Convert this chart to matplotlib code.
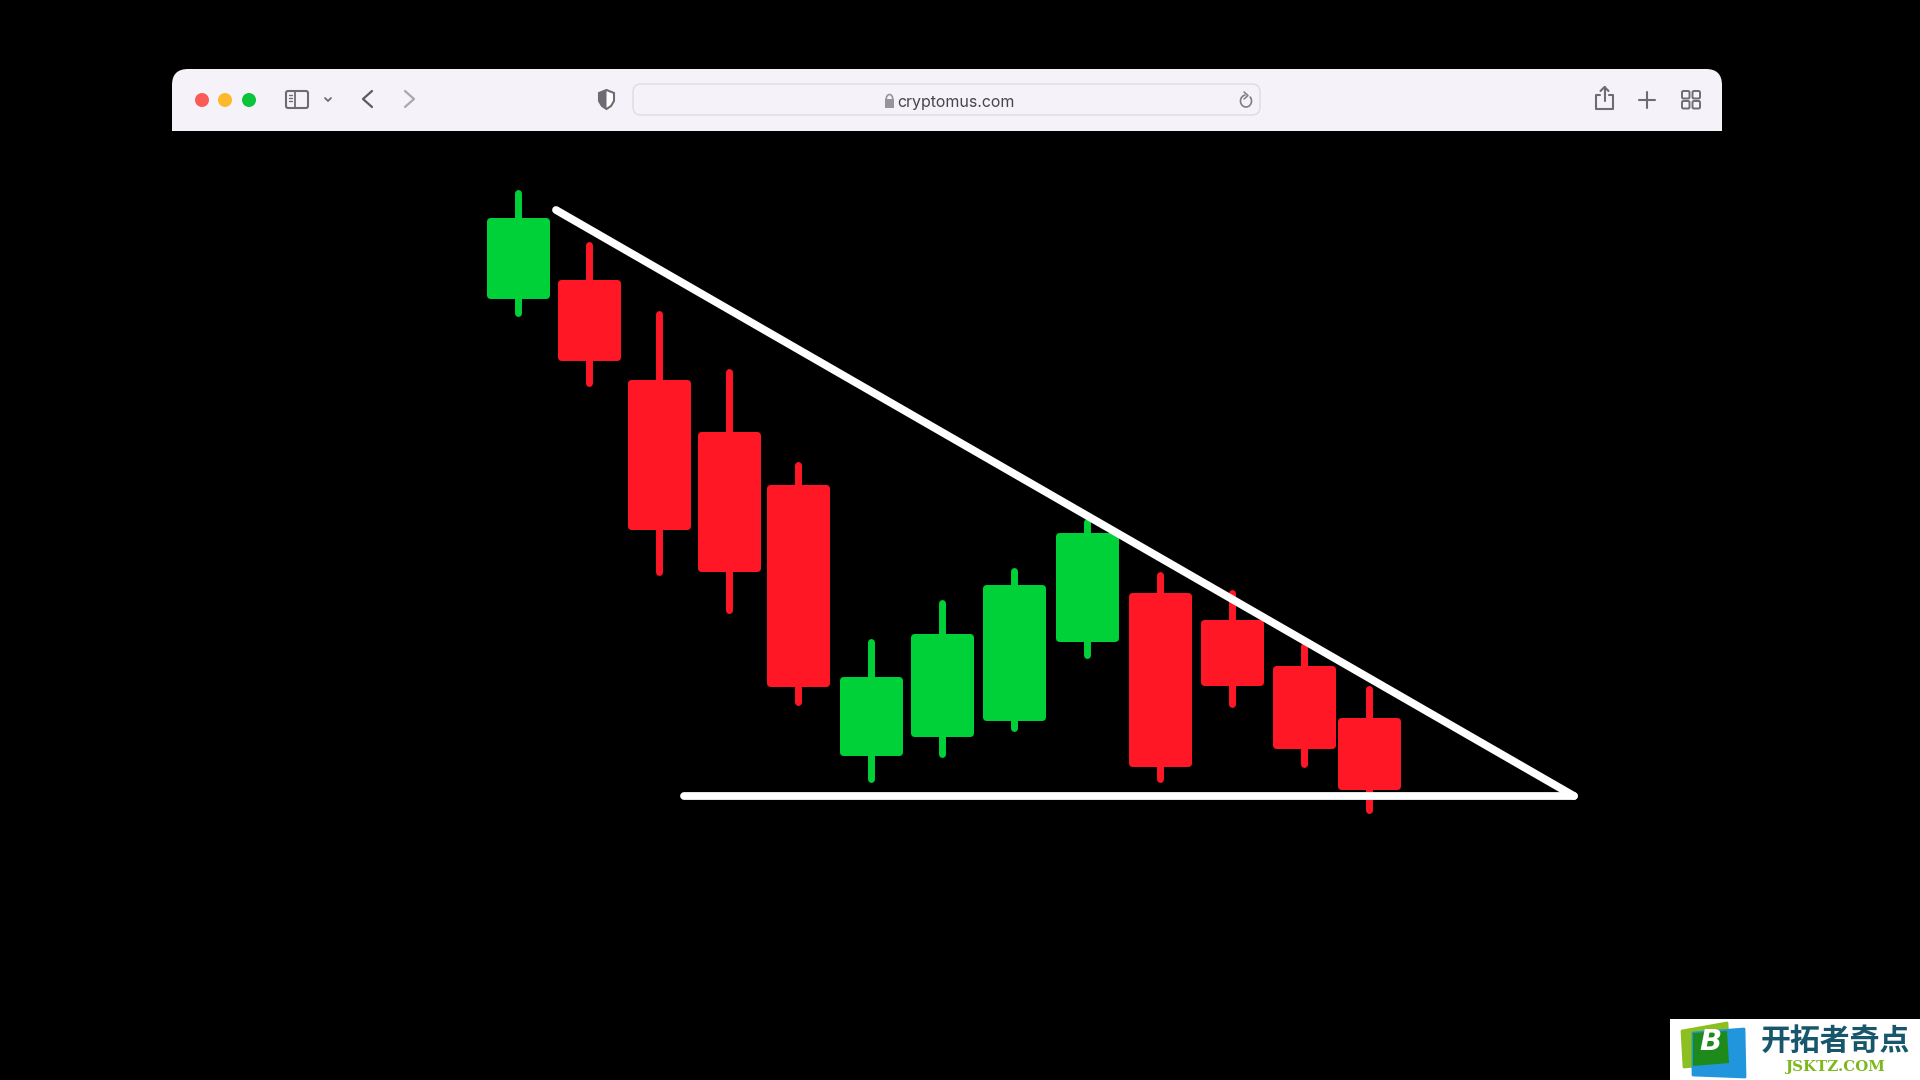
import matplotlib
matplotlib.use('Agg')
import matplotlib.pyplot as plt
from matplotlib.patches import FancyBboxPatch, Circle, Polygon, Rectangle, Arc

# Candles (y runs downward, in image pixels)
candle_x = [518, 589, 659, 729, 798, 871, 942, 1014, 1087, 1160, 1232, 1304, 1369]
wick_top = [193, 245, 314, 372, 465, 642, 603, 571, 522, 575, 593, 646, 689]
wick_bottom = [313, 383, 572, 610, 702, 779, 754, 728, 655, 779, 704, 764, 810]
body_top = [218, 280, 380, 432, 485, 677, 634, 585, 533, 593, 620, 666, 718]
body_bottom = [299, 361, 530, 572, 687, 756, 737, 721, 642, 767, 686, 749, 790]
direction = ['up', 'down', 'down', 'down', 'down', 'up', 'up', 'up', 'up', 'down', 'down', 'down', 'down']

# Trend lines of the triangle
trend_x = [556, 1574]
trend_y = [210, 796]
support_x = [684, 1574]
support_y = [796, 796]

GREEN = '#00d138'
RED = '#ff1726'
BAR = '#f6f2f9'
ICON = '#6e6b72'

fig = plt.figure(figsize=(19.2, 10.8), dpi=100, facecolor='black')
ax = fig.add_axes([0, 0, 1, 1])
ax.set_xlim(0, 1920)
ax.set_ylim(1080, 0)
ax.axis('off')


def rounded(x0, y0, x1, y1, r, **kw):
    p = FancyBboxPatch((x0 + r, y0 + r), x1 - x0 - 2 * r, y1 - y0 - 2 * r,
                       boxstyle=f'round,pad={r},rounding_size={r}', **kw)
    ax.add_patch(p)
    return p


def stroke(xs, ys, color=ICON, lw=1.5, **kw):
    ax.plot(xs, ys, color=color, lw=lw, solid_capstyle='round', solid_joinstyle='round', **kw)


# Browser toolbar: rounded on top, square at the bottom
rounded(172, 69, 1722, 145, 16, fc=BAR, ec='none', zorder=1)
ax.add_patch(Rectangle((172, 100), 1550, 31, fc=BAR, ec='none', zorder=1))
ax.add_patch(Rectangle((165, 131), 1565, 20, fc='black', ec='none', zorder=1.5))

# Window buttons
for cx, col in zip([202, 225, 249], ['#fb5b57', '#fdb92c', '#0ac43c']):
    ax.add_patch(Circle((cx, 100), 7, fc=col, ec='none', zorder=2))

# Sidebar icon
rounded(286, 91, 308, 108, 2, fc='none', ec=ICON, lw=1.5, zorder=2)
stroke([295, 295], [91, 108], lw=1.3, zorder=2)
for yy in [95, 98, 101]:
    stroke([289, 292], [yy, yy], lw=1, zorder=2)
stroke([325, 328, 331], [98, 101, 98], lw=1.3, zorder=2)

# Back / forward
stroke([372, 363, 372], [91, 99, 107], color='#5c5a60', lw=1.6, zorder=2)
stroke([405, 414, 405], [91, 99, 107], color='#aaa7ae', lw=1.6, zorder=2)

# Shield
shield = [(599, 93), (606.5, 90), (614, 93), (614, 101), (611, 106), (606.5, 109), (602, 106), (599, 101)]
ax.add_patch(Polygon(shield, closed=True, fc='white', ec=ICON, lw=1.5, zorder=2))
ax.add_patch(Polygon(shield[:2] + [(606.5, 109), (602, 106), (599, 101)], closed=True, fc=ICON, ec='none', zorder=2))

# Address bar
rounded(633, 84, 1260, 115, 8, fc=BAR, ec='#e0dde4', lw=1.1, zorder=2)
ax.text(897.5, 102, 'cryptomus.com', family='Inter', fontsize=11.5, color='#48464c',
        ha='left', va='center', zorder=3)
ax.add_patch(Rectangle((885, 99), 9, 9, fc='#97949b', ec='none', zorder=3))
ax.add_patch(Arc((889.5, 99), 6.5, 9, theta1=0, theta2=360, ec='#97949b', lw=1.2, zorder=3))
ax.add_patch(Arc((1246, 101), 11, 12, theta1=-50, theta2=265, ec='#807d84', lw=1.2, zorder=3))
stroke([1244, 1248, 1244], [92, 95.5, 99], color='#807d84', lw=1.1, zorder=3)

# Share, plus, tabs
stroke([1600, 1596, 1596, 1613, 1613, 1609], [95, 95, 109, 109, 95, 95], zorder=2)
stroke([1604.5, 1604.5], [87, 101], zorder=2)
stroke([1600.5, 1604.5, 1608.5], [91, 87, 91], zorder=2)
stroke([1639, 1655], [100, 100], zorder=2)
stroke([1647, 1647], [92, 108], zorder=2)
for gx in [1682, 1692.5]:
    for gy in [91, 101]:
        rounded(gx, gy, gx + 7.5, gy + 7.5, 1.5, fc='none', ec=ICON, lw=1.4, zorder=2)

# Wicks and bodies
colors = [GREEN if d == 'up' else RED for d in direction]
ax.vlines(candle_x, wick_top, wick_bottom, colors=colors, lw=5, capstyle='round', zorder=3)
for x, top, bot, col in zip(candle_x, body_top, body_bottom, colors):
    rounded(x - 31, top, x + 32, bot, 4, fc=col, ec='none', zorder=4)

# Triangle
ax.plot(trend_x, trend_y, color='white', lw=5.6, solid_capstyle='round', zorder=5)
ax.plot(support_x, support_y, color='white', lw=5.6, solid_capstyle='round', zorder=5)

# Watermark
ax.add_patch(Rectangle((1670, 1019), 250, 61, fc='white', ec='none', zorder=6))
ax.add_patch(Polygon([(1682, 1031), (1727, 1023), (1729, 1063), (1684, 1067)], closed=True,
                     fc='#8cbf1f', ec='#8cbf1f', lw=2, joinstyle='round', zorder=7))
ax.add_patch(Polygon([(1693, 1033), (1744, 1029), (1745, 1077), (1693, 1075)], closed=True,
                     fc='#2196dc', ec='#2196dc', lw=2, joinstyle='round', zorder=7))
ax.add_patch(Polygon([(1693, 1033), (1727, 1031), (1729, 1063), (1693, 1066)], closed=True,
                     fc='#1f8a1c', ec='none', zorder=8))
ax.text(1711, 1042, 'B', family='DejaVu Sans', fontsize=21, weight='bold', style='italic',
        color='white', ha='center', va='center', zorder=9)
ax.text(1835, 1041, '开拓者奇点', family=['Noto Sans CJK SC', 'DejaVu Sans'], fontsize=21.5, weight='bold',
        color='#17566b', ha='center', va='center', zorder=7)
ax.text(1835, 1066.5, 'JSKTZ.COM', family='DejaVu Serif', fontsize=10.8, weight='bold',
        color='#7fb81e', ha='center', va='center', zorder=7)

plt.savefig('out.png', dpi=100, facecolor='black')
